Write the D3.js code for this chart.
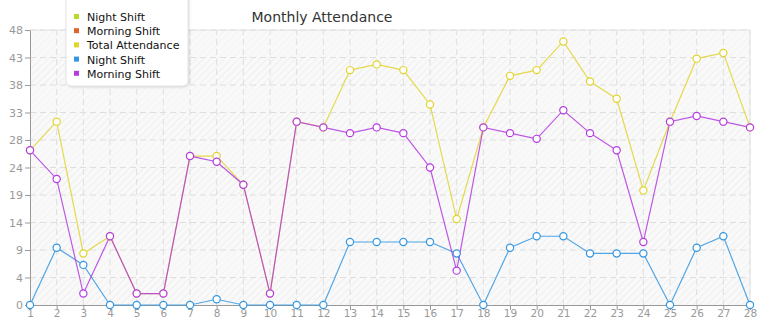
<!DOCTYPE html>
<html>
<head>
<meta charset="utf-8">
<script src="https://cdn.jsdelivr.net/npm/d3@7"></script>
<style>
  body { margin: 0; background: #fff; }
  text { font-family: "DejaVu Sans", sans-serif; }
</style>
</head>
<body>
<div id="plot"></div>
<script>
// days of the month
const days = d3.range(1, 29);
const totalAttendance = [27, 32, 9, 12, 2, 2, 26, 26, 21, 2, 32, 31, 41, 42, 41, 35, 15, 31, 40, 41, 46, 39, 36, 20, 32, 43, 44, 31];
const nightShift = [0, 10, 7, 0, 0, 0, 0, 1, 0, 0, 0, 0, 11, 11, 11, 11, 9, 0, 10, 12, 12, 9, 9, 9, 0, 10, 12, 0];
const morningShift = [27, 22, 2, 12, 2, 2, 26, 25, 21, 2, 32, 31, 30, 31, 30, 24, 6, 31, 30, 29, 34, 30, 27, 11, 32, 33, 32, 31];
const legendNames = ["Night Shift", "Morning Shift", "Total Attendance", "Night Shift", "Morning Shift"];
const legendColors = ["#b8dc2c", "#e0622c", "#e2d42e", "#3496e0", "#b43ae2"];
const yTicks = d3.range(0, 11).map(i => i * 4.8);

const W = 765, H = 320;
const margin = {top: 30, right: 15, bottom: 15, left: 30};

const svg = d3.select("#plot").append("svg")
    .attr("width", W).attr("height", H);

const x = d3.scaleLinear().domain([1, 28]).range([margin.left, W - margin.right]);
const y = d3.scaleLinear().domain([0, 48]).range([H - margin.bottom, margin.top]);

// hatch pattern for the plot background
const defs = svg.append("defs");
const pat = defs.append("pattern").attr("id", "hatch")
    .attr("width", 5).attr("height", 5)
    .attr("patternUnits", "userSpaceOnUse")
    .attr("patternTransform", "rotate(45)");
pat.append("rect").attr("width", 5).attr("height", 5).attr("fill", "#f9f9f9");
pat.append("line").attr("x1", 0).attr("y1", 0).attr("x2", 0).attr("y2", 5)
    .attr("stroke", "#ececec").attr("stroke-width", 1.5);

svg.append("rect")
    .attr("x", x(1)).attr("y", y(48))
    .attr("width", x(28) - x(1)).attr("height", y(0) - y(48))
    .attr("fill", "url(#hatch)");

// alternating lighter bands
svg.selectAll("rect.band")
    .data(yTicks.slice(0, -1).filter((d, i) => i % 2 === 0))
    .enter().append("rect")
    .attr("class", "band")
    .attr("x", x(1))
    .attr("y", d => y(d + 4.8 * 2))
    .attr("width", x(28) - x(1))
    .attr("height", y(0) - y(4.8))
    .attr("fill", "#f8f8f8")
    .attr("opacity", 0.6);

// grid
svg.append("g").selectAll("line")
    .data(days.slice(1))
    .enter().append("line")
    .attr("x1", d => x(d)).attr("x2", d => x(d))
    .attr("y1", y(0)).attr("y2", y(48))
    .attr("stroke", "#dedede").attr("stroke-dasharray", "6,4");

svg.append("g").selectAll("line")
    .data(yTicks.slice(1))
    .enter().append("line")
    .attr("x1", x(1)).attr("x2", x(28))
    .attr("y1", d => y(d)).attr("y2", d => y(d))
    .attr("stroke", "#dedede").attr("stroke-dasharray", "6,4");

// plot border (top/right)
svg.append("path")
    .attr("d", `M${x(1)},${y(48)}H${x(28)}V${y(0)}`)
    .attr("fill", "none").attr("stroke", "#e2e2e2");

// axes
const yAxis = svg.append("g")
    .attr("transform", `translate(${x(1)},0)`)
    .call(d3.axisLeft(y).tickValues(yTicks).tickFormat(d => Math.floor(d + 1e-9)).tickSize(5).tickSizeOuter(0));
const xAxis = svg.append("g")
    .attr("transform", `translate(0,${y(0)})`)
    .call(d3.axisBottom(x).tickValues(days).tickFormat(d3.format("d")).tickSize(5).tickSizeOuter(0));
[yAxis, xAxis].forEach(a => {
    a.select(".domain").attr("stroke", "#999");
    a.selectAll(".tick line").attr("stroke", "#999");
    a.selectAll(".tick text").attr("fill", "#999").attr("font-size", 11)
        .attr("font-family", "DejaVu Sans, sans-serif");
});
yAxis.selectAll(".tick text").attr("x", -7);
xAxis.selectAll(".tick text").attr("y", 5).attr("font-size", 10.5);

// series lines
const series = [
    {values: totalAttendance, color: legendColors[2]},
    {values: nightShift, color: legendColors[3]},
    {values: morningShift, color: legendColors[4]}
];
const line = d3.line().x((d, i) => x(days[i])).y(d => y(d));

series.forEach(s => {
    svg.append("path")
        .datum(s.values)
        .attr("d", line)
        .attr("fill", "none")
        .attr("stroke", s.color)
        .attr("stroke-width", 1.2)
        .attr("opacity", 0.85);
});
series.forEach(s => {
    svg.append("g").selectAll("circle")
        .data(s.values)
        .enter().append("circle")
        .attr("cx", (d, i) => x(days[i]))
        .attr("cy", d => y(d))
        .attr("r", 3.6)
        .attr("fill", "#fff")
        .attr("stroke", s.color)
        .attr("stroke-width", 1.2);
});

// title
svg.append("text")
    .attr("x", 322).attr("y", 22)
    .attr("text-anchor", "middle")
    .attr("font-size", 14).attr("fill", "#333")
    .text("Monthly Attendance");

// legend
const legend = svg.append("g");
legend.append("rect")
    .attr("x", 66).attr("y", -6).attr("width", 122).attr("height", 92).attr("rx", 5)
    .attr("fill", "#fff").attr("stroke", "#e4e4e4")
    .style("filter", "drop-shadow(1px 1px 1px rgba(0,0,0,0.12))");
const items = legend.selectAll("g.item")
    .data(legendNames)
    .enter().append("g")
    .attr("transform", (d, i) => `translate(76,${17 + i * 14.2})`);
items.append("rect")
    .attr("x", -2).attr("y", -3).attr("width", 5).attr("height", 5)
    .attr("fill", (d, i) => legendColors[i]);
items.append("text")
    .attr("x", 11).attr("y", 4)
    .attr("font-size", 11).attr("fill", "#111")
    .text(d => d);
</script>
</body>
</html>
